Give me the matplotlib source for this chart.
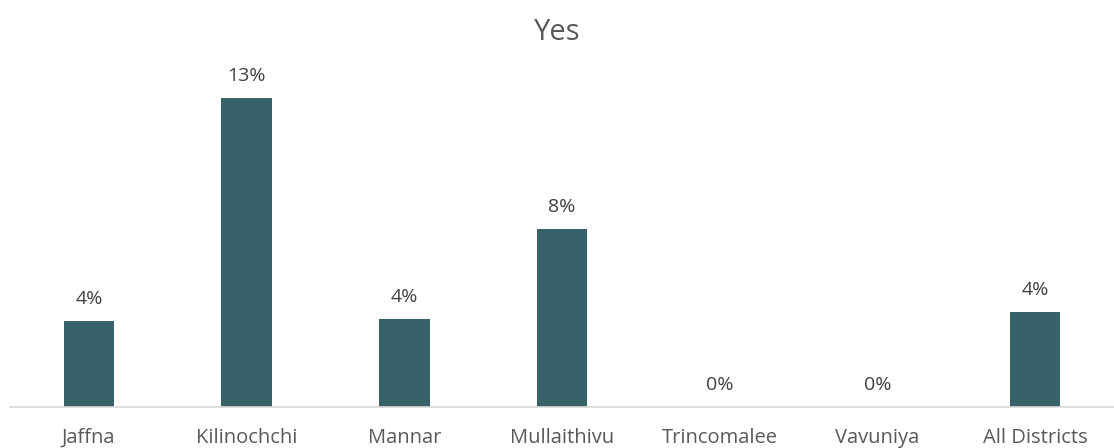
import matplotlib.pyplot as plt

plt.rcParams['font.family'] = ['Open Sans', 'DejaVu Sans']

# Share answering "Yes" by district (%)
districts = ["Jaffna", "Kilinochchi", "Mannar", "Mullaithivu", "Trincomalee", "Vavuniya", "All Districts"]
values = [3.6, 13.0, 3.7, 7.5, 0.0, 0.0, 4.0]
labels = ["4%", "13%", "4%", "8%", "0%", "0%", "4%"]

fig = plt.figure(figsize=(11.14, 4.48), dpi=100)
ax = fig.add_axes([10 / 1114, 41 / 448, 1104 / 1114, 347 / 448])

x = range(len(districts))
ax.bar(x, values, width=0.32, color="#37626A")
ax.set_xlim(-0.5, len(districts) - 0.5)
ax.set_ylim(0, 13.0 * 347 / 309)

for i, v in enumerate(values):
    ax.text(i, v + 0.55, labels[i], ha='center', va='bottom', fontsize=14, color="#404040")

ax.set_xticks(list(x))
ax.set_xticklabels(districts, fontsize=14.5, color="#595959")
ax.tick_params(axis='x', length=0, pad=15)
ax.set_yticks([])
for side in ['left', 'right', 'top']:
    ax.spines[side].set_visible(False)
ax.spines['bottom'].set_color("#D9D9D9")
ax.spines['bottom'].set_linewidth(1.2)

fig.text(0.5, 1 - 32 / 448, "Yes", ha='center', va='center', fontsize=21, color="#595959")

fig.savefig("out.png", dpi=100)
